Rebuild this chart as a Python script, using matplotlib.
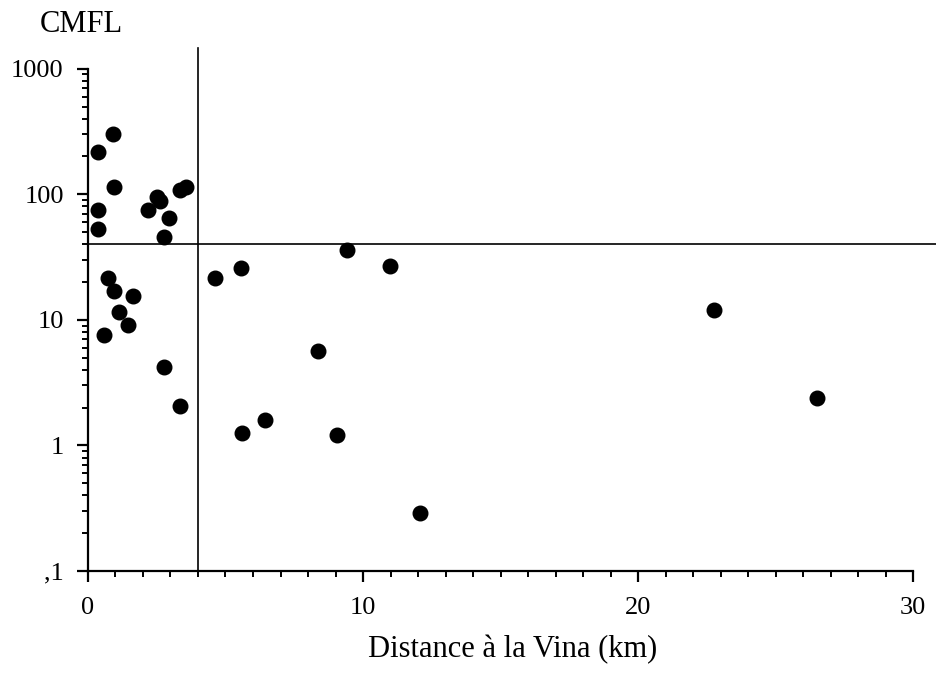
import matplotlib
matplotlib.use("Agg")
import matplotlib.pyplot as plt
import matplotlib.ticker as mticker
import numpy as np

# Distance to the Vina river (km) and CMFL values per site
distance = [0.35, 0.92, 0.95, 0.38, 0.38, 2.17, 2.5, 2.62, 2.96, 2.75, 3.35, 3.56,
            0.74, 0.95, 1.62, 1.14, 1.44, 0.59, 2.78, 3.36,
            4.62, 5.56, 5.6, 6.45, 8.37, 9.43, 10.98, 9.07, 12.07, 22.76, 26.5]
cmfl = [217, 303, 115, 75, 53, 75, 95, 88, 65, 46, 109, 114,
        21.5, 17, 15.6, 11.6, 9.1, 7.6, 4.2, 2.06,
        21.5, 25.8, 1.26, 1.6, 5.6, 35.7, 26.9, 1.2, 0.29, 12.0, 2.38]

dist_cut = 4      # vertical threshold (km)
cmfl_cut = 40     # horizontal threshold

y_ticks = [0.1, 1, 10, 100, 1000]
y_tick_labels = [",1", "1", "10", "100", "1000"]
x_ticks = [0, 10, 20, 30]

plt.rcParams['font.family'] = ['Liberation Serif', 'DejaVu Serif']
plt.rcParams['font.size'] = 19

fig = plt.figure(figsize=(9.36, 6.74), dpi=100)
ax = fig.add_axes([0.094, 0.153, 0.8815, 0.745])

ax.scatter(distance, cmfl, s=110, color='black', zorder=3, clip_on=False)

ax.set_yscale('log')
ax.set_xlim(0, 30)
ax.set_ylim(0.1, 1000)

# threshold lines (run past the plotting area)
ax.plot([dist_cut, dist_cut], [0.1, 1470], color='black', lw=1.2, clip_on=False)
ax.plot([0, 30.85], [cmfl_cut, cmfl_cut], color='black', lw=1.2, clip_on=False)

ax.set_yticks(y_ticks)
ax.set_yticklabels(y_tick_labels)
ax.yaxis.set_minor_locator(mticker.LogLocator(base=10, subs=np.arange(2, 10)))
ax.yaxis.set_minor_formatter(mticker.NullFormatter())

ax.set_xticks(x_ticks)
ax.xaxis.set_minor_locator(mticker.MultipleLocator(1))

for side in ['top', 'right']:
    ax.spines[side].set_visible(False)
for side in ['left', 'bottom']:
    ax.spines[side].set_linewidth(1.6)

ax.tick_params(which='major', direction='out', length=8, width=1.6)
ax.tick_params(which='minor', direction='out', length=4.5, width=1.4)
ax.tick_params(axis='y', which='major', pad=9.5)
ax.tick_params(axis='x', which='major', pad=11)

ax.set_xlabel("Distance à la Vina (km)", fontsize=22)
ax.xaxis.set_label_coords(0.515, -0.128)
fig.text(0.043, 0.963, "CMFL", ha='left', va='center', fontsize=22)

fig.savefig("out.png", dpi=100)
